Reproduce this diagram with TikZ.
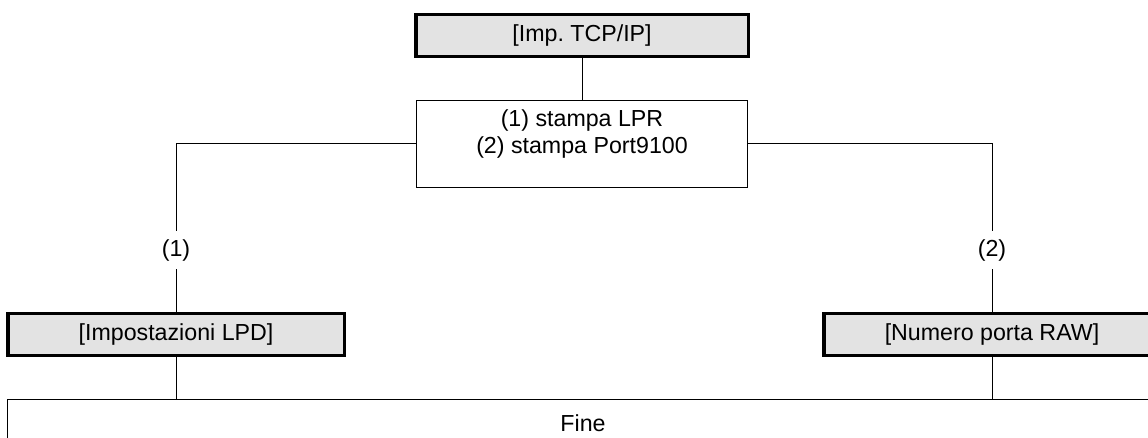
\documentclass[tikz,border=0pt]{standalone}
\usepackage{fontspec}
\setmainfont{Liberation Sans}
\usepackage{xcolor}
\usetikzlibrary{positioning}

\definecolor{boxgray}{HTML}{E3E3E3}

\tikzset{
  menubox/.style={draw, line width=2.2pt, fill=boxgray, minimum width=8.4cm, minimum height=1.05cm, inner sep=0pt},
  plainbox/.style={draw, line width=0.7pt, fill=white, inner sep=0pt},
  branchlabel/.style={inner sep=0.2cm},
  link/.style={line width=0.7pt}
}

\begin{document}
\frenchspacing
\begin{tikzpicture}[x=0.025cm, y=-0.025cm, font=\fontsize{16.5}{19.5}\selectfont]
\useasboundingbox (0,0) rectangle (1148,437);
\clip (0,0) rectangle (1148,437);

\node[menubox, minimum width=8.3cm] (tcpip) at (582,35.5) {[Imp. TCP/IP]};
\node[plainbox, minimum width=8.275cm, minimum height=2.175cm, align=center, text depth=0.6cm] (mode) at (582,143.5) {(1) stampa LPR\\(2) stampa Port9100};

\node[branchlabel] (one) at (176,250) {(1)};
\node[branchlabel] (two) at (992,250) {(2)};

\node[menubox] (lpd) at (176,334.5) {[Impostazioni LPD]};
\node[menubox] (raw) at (992,334.5) {[Numero porta RAW]};

\node[plainbox, minimum width=28.75cm, minimum height=1.2cm] (fine) at (583,423) {Fine};

\draw[link] (tcpip.south) -- (mode.north);
\draw[link] (mode.west) -| (one.north);
\draw[link] (mode.east) -| (two.north);
\draw[link] (one.south) -- (lpd.north);
\draw[link] (two.south) -- (raw.north);
\draw[link] (lpd.south) -- (lpd.south |- fine.north);
\draw[link] (raw.south) -- (raw.south |- fine.north);
\end{tikzpicture}
\end{document}
